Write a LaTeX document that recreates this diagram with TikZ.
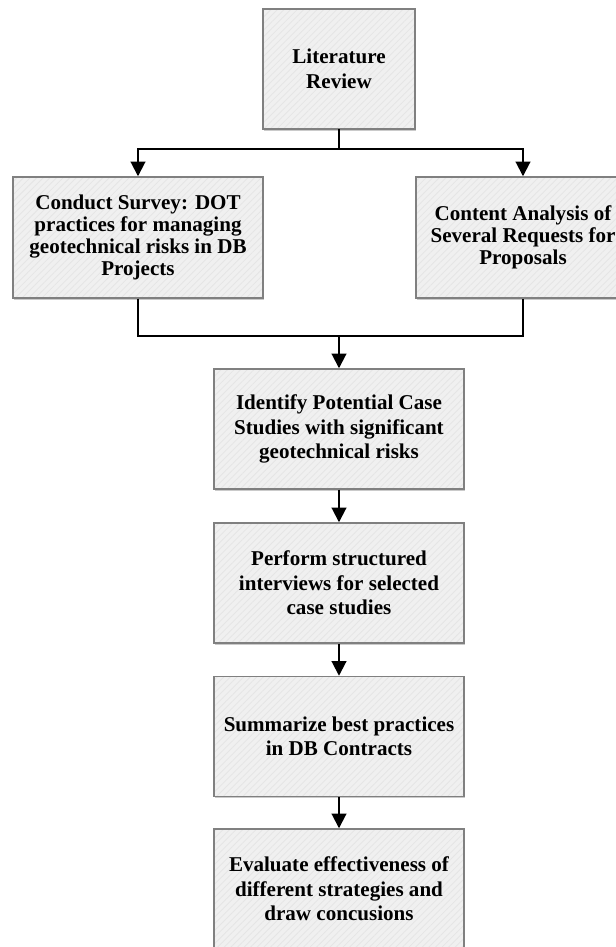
\documentclass[tikz,border=0pt]{standalone}
\usepackage{fontspec}
\setmainfont{Liberation Serif}
\usetikzlibrary{positioning,arrows.meta,shadows,patterns.meta}

\begin{document}
\begin{tikzpicture}[x=0.75pt,y=-0.75pt,
  stepbox/.style={draw=black!50,line width=1.1pt,align=center,
    font=\bfseries\fontsize{15.8}{18.4}\selectfont,
    minimum width=187.5pt,minimum height=90pt,inner sep=0pt,
    drop shadow={shadow xshift=0.6pt,shadow yshift=-1.2pt,opacity=0.35,fill=black!60},
    preaction={fill=black!6},
    pattern={Lines[angle=45,distance=3.5pt,line width=0.6pt]},pattern color=black!10},
  sidebox/.style={stepbox,font=\bfseries\fontsize{15.8}{16.5}\selectfont,minimum height=90.75pt},
  link/.style={line width=1.5pt},
  flow/.style={link,-{Triangle[width=11pt,length=11pt]}}]
\useasboundingbox (0,0) rectangle (616,947);
\clip (0,0) rectangle (616,947);
% steps of the study
\node[stepbox,minimum width=114pt] (lit) at (339,69) {Literature\\Review};
\node[sidebox] (survey) at (138,237.5) {Conduct Survey: DOT\\practices for managing\\geotechnical risks in DB\\Projects};
\node[sidebox,minimum width=160.5pt] (rfp) at (523,237.5) {Content Analysis of\\Several Requests for\\Proposals};
\node[stepbox] (cases) at (339,429) {Identify Potential Case\\Studies with significant\\geotechnical risks};
\node[stepbox] (interviews) at (339,583) {Perform structured\\interviews for selected\\case studies};
\node[stepbox] (summary) at (339,736.5) {Summarize best practices\\in DB Contracts};
\node[stepbox] (evaluate) at (339,889) {Evaluate effectiveness of\\different strategies and\\draw concusions};
% split and merge
\coordinate (split) at (339,149);
\coordinate (merge) at (339,336);
\draw[link] (lit) -- (split);
\draw[flow] (split) -| (survey);
\draw[flow] (split) -| (rfp);
\draw[link] (survey) |- (merge) -| (rfp);
\draw[flow] (merge) -- (cases);
\foreach \a/\b in {cases/interviews,interviews/summary,summary/evaluate}
  {\draw[flow] (\a) -- (\b);}
\end{tikzpicture}
\end{document}
